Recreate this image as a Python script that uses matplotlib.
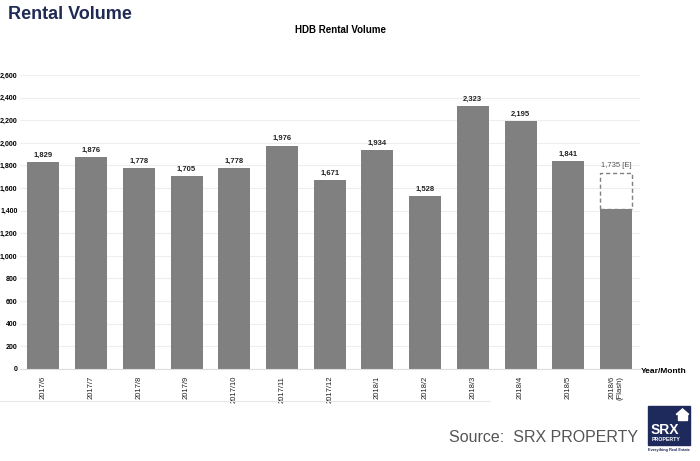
import matplotlib.pyplot as plt
from matplotlib.patches import Rectangle, Polygon
import numpy as np

# data
months = ['2017/6', '2017/7', '2017/8', '2017/9', '2017/10', '2017/11', '2017/12',
          '2018/1', '2018/2', '2018/3', '2018/4', '2018/5', '2018/6\n(Flash)']
volume = [1829, 1876, 1778, 1705, 1778, 1976, 1671, 1934, 1528, 2323, 2195, 1841, 1416]
estimate = 1735
yticks = list(range(0, 2601, 200))

plt.rcParams['font.family'] = ['Liberation Sans', 'DejaVu Sans']

fig = plt.figure(figsize=(7, 4.61), dpi=100)
ax = fig.add_axes([0.028, 0.2, 0.886, 0.637])

x = np.arange(len(months))
ax.bar(x, volume, width=0.67, color='#808080', zorder=2)

# estimate box on flash bar
last = len(months) - 1
ax.add_patch(Rectangle((last - 0.335, volume[-1]), 0.67, estimate - volume[-1],
                       fill=False, ec='#808080', ls=(0, (3, 2)), lw=1.0, zorder=3))

for i, v in enumerate(volume[:-1]):
    ax.text(i, v + 30, f'{v:,}', ha='center', va='bottom', fontsize=5.5,
            fontweight='bold', color='#222222')
ax.text(last, estimate + 30, f'{estimate:,} [E]', ha='center', va='bottom',
        fontsize=5.5, color='#555555')

ax.set_ylim(0, 2600)
ax.set_xlim(-0.5, len(months) - 0.5)
ax.set_yticks(yticks)
ax.set_yticklabels([f'{t:,}' for t in yticks], fontsize=5, fontweight='bold')
ax.set_xticks(x)
ax.set_xticklabels(months, rotation=90, fontsize=5.5, va='top', color='#222222')
ax.tick_params(axis='y', length=0, pad=1.5)
ax.tick_params(axis='x', length=0, pad=5)
ax.yaxis.grid(True, color='#eeeeee', lw=0.8, zorder=0)
for s in ['top', 'right', 'left']:
    ax.spines[s].set_visible(False)
ax.spines['bottom'].set_color('#dddddd')

fig.text(0.916, 0.195, 'Year/Month', fontsize=6, fontweight='bold', va='center')

fig.text(0.012, 0.968, 'Rental Volume', fontsize=13, fontweight='bold',
         color='#1f2a55', va='center')
fig.text(0.487, 0.934, 'HDB Rental Volume', fontsize=7, fontweight='bold',
         ha='center', va='center')

# separator line
fig.add_artist(plt.Line2D([0, 0.7], [0.13, 0.13], color='#e8e8e8', lw=0.8))

fig.text(0.912, 0.052, 'Source:  SRX PROPERTY', fontsize=11.5, color='#555555',
         ha='right', va='center')

# logo
lx, ly, lw_, lh = 0.926, 0.035, 0.06, 0.084
fig.add_artist(Rectangle((lx, ly), lw_, lh, transform=fig.transFigure,
                         color='#1f2a5c'))
fig.add_artist(Polygon([[lx + 0.040, ly + 0.066], [lx + 0.049, ly + 0.078],
                        [lx + 0.058, ly + 0.066]], closed=True,
                       transform=fig.transFigure, color='white'))
fig.add_artist(Rectangle((lx + 0.043, ly + 0.054), 0.012, 0.013,
                         transform=fig.transFigure, color='white'))
fig.text(lx + 0.004, ly + 0.032, 'SRX', fontsize=10, fontweight='bold',
         color='white', va='center')
fig.text(lx + 0.005, ly + 0.011, 'PROPERTY', fontsize=3.8, fontweight='bold',
         color='white', va='center')
fig.text(lx + lw_ / 2, ly - 0.012, 'Everything Real Estate', fontsize=2.8,
         fontweight='bold', color='#1f2a5c', ha='center', va='center')

fig.savefig('out.png', dpi=100)
